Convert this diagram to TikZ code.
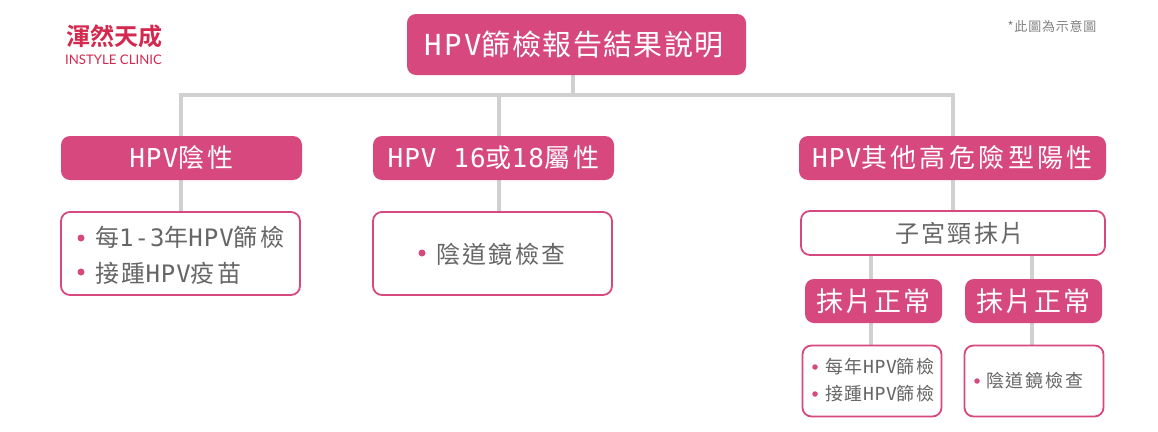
\documentclass[tikz,border=0pt]{standalone}
\usepackage{fontspec}
\newfontfamily\cjkT[LetterSpace=5]{Noto Sans CJK TC}
\newfontfamily\cjkA[LetterSpace=13]{Noto Sans CJK TC}
\newfontfamily\cjkB[LetterSpace=7.5]{Noto Sans CJK TC}
\newfontfamily\cjkC[LetterSpace=10]{Noto Sans CJK TC}
\newfontfamily\cjkN[LetterSpace=6]{Noto Sans CJK TC}
\newfontfamily\cjkL[LetterSpace=0]{Noto Sans CJK TC Bold}
\newfontfamily\latf[LetterSpace=4]{DejaVu Sans Mono}
\newfontfamily\latT[LetterSpace=9]{DejaVu Sans Mono}
\newfontfamily\latinlogo{Lato}
\newcommand{\lat}[1]{{\latf #1}}
\usetikzlibrary{backgrounds}
\definecolor{rose}{HTML}{D6487E}
\definecolor{linegray}{HTML}{D0D0D0}
\definecolor{txtgray}{HTML}{666666}
\definecolor{logored}{HTML}{D4294F}
\tikzset{
  x=1pt,y=-1pt,
  fillbox/.style={draw=none,fill=rose,text=white,rounded corners=9pt,inner sep=0pt,outer sep=0pt,font=\cjkA\fontsize{26}{26}\selectfont},
  linebox/.style={draw=rose,line width=1.8pt,fill=white,rounded corners=9pt,inner sep=0pt,outer sep=0pt,text=txtgray,font=\cjkC\fontsize{24}{24}\selectfont},
  conn/.style={draw=linegray,line width=4pt},
  dotm/.style={circle,fill=rose,inner sep=0pt,minimum size=#1},
  itemtext/.style={anchor=west,inner sep=0pt,text=txtgray,font=\cjkC\fontsize{#1}{#1}\selectfont},
}
\begin{document}
\begin{tikzpicture}
\useasboundingbox (0,0) rectangle (1158,431);
% top
\node[fillbox,minimum width=339pt,minimum height=61pt,font=\cjkT\fontsize{29}{29}\selectfont] (title) at (576.5,44.5) {{\latT HPV}篩檢報告結果說明\hspace*{5pt}};
\node[fillbox,minimum width=241pt,minimum height=44pt] (neg) at (181.5,158) {\lat{HPV}陰性};
\node[fillbox,minimum width=241pt,minimum height=44pt] (hpvs) at (493.5,158) {\lat{HPV 16}或\lat{18}屬性};
\node[fillbox,minimum width=307pt,minimum height=44pt] (other) at (952.5,158) {\lat{HPV}其他高危險型陽性};
\node[linebox,minimum width=239pt,minimum height=83pt] (negbox) at (180.5,253.5) {};
\node[linebox,minimum width=239pt,minimum height=83pt] (colpo) at (492.5,253.5) {};
\node[linebox,minimum width=304pt,minimum height=44pt] (pap) at (953,233) {\hspace*{14pt}子宮頸抹片};
\node[fillbox,minimum width=137pt,minimum height=44pt,font=\cjkB\fontsize{27}{27}\selectfont] (nl) at (873.5,301) {抹片正常};
\node[fillbox,minimum width=137pt,minimum height=44pt,font=\cjkB\fontsize{27}{27}\selectfont] (nr) at (1033.5,301) {抹片正常};
\node[linebox,minimum width=139pt,minimum height=71pt] (bl) at (872,381) {};
\node[linebox,minimum width=139pt,minimum height=71pt] (br) at (1034,381) {};
% list texts
\node[dotm=7pt] (d1) at (81,238) {};
\node[itemtext=24] (t1) at (95,237) {每\lat{1-3}年\lat{HPV}篩檢};
\node[dotm=7pt] (d2) at (81,272) {};
\node[itemtext=24] (t2) at (95,273) {接踵\lat{HPV}疫苗};
\node[dotm=7pt] (d3) at (422,253) {};
\node[itemtext=24] (t3) at (436,254) {陰道鏡檢查};
\node[dotm=5.5pt] (d4) at (815,367) {};
\node[itemtext=18] (t4) at (825,367) {每年\lat{HPV}篩檢};
\node[dotm=5.5pt] (d5) at (815,394) {};
\node[itemtext=18] (t5) at (825,394) {接踵\lat{HPV}篩檢};
\node[dotm=5.5pt] (d6) at (977,381) {};
\node[itemtext=18] (t6) at (986,381) {陰道鏡檢查};
% note and logo
\node[inner sep=0pt,text=black!50,font=\cjkN\fontsize{13}{13}\selectfont] (note) at (1052,27) {*此圖為示意圖};
\node[inner sep=0pt,text=logored,font=\cjkL\fontsize{24}{24}\selectfont] (logo) at (114,36) {渾然天成};
\node[inner sep=0pt,text=logored,font=\latinlogo\fontsize{13.2}{13.2}\selectfont] (logoen) at (113.5,60) {INSTYLE CLINIC};
% connectors
\coordinate (busa) at (181,95);
\coordinate (busb) at (499,95);
\coordinate (busc) at (953,95);
\coordinate (busm) at (573,95);
\coordinate (px) at (871,0);
\coordinate (qx) at (1032,0);
\begin{scope}[on background layer]
\draw[conn] (title.south -| busm) -- (busm);
\draw[conn,line cap=rect] (neg.north -| busa) -- (busa) -- (busc) -- (other.north -| busc);
\draw[conn] (busb) -- (hpvs.north -| busb);
\draw[conn] (neg.south -| busa) -- (negbox.north -| busa);
\draw[conn] (hpvs.south -| busb) -- (colpo.north -| busb);
\draw[conn] (other.south -| busc) -- (pap.north -| busc);
\draw[conn] (pap.south -| px) -- (nl.north -| px);
\draw[conn] (pap.south -| qx) -- (nr.north -| qx);
\draw[conn] (nl.south -| px) -- (bl.north -| px);
\draw[conn] (nr.south -| qx) -- (br.north -| qx);
\end{scope}
\end{tikzpicture}
\end{document}
